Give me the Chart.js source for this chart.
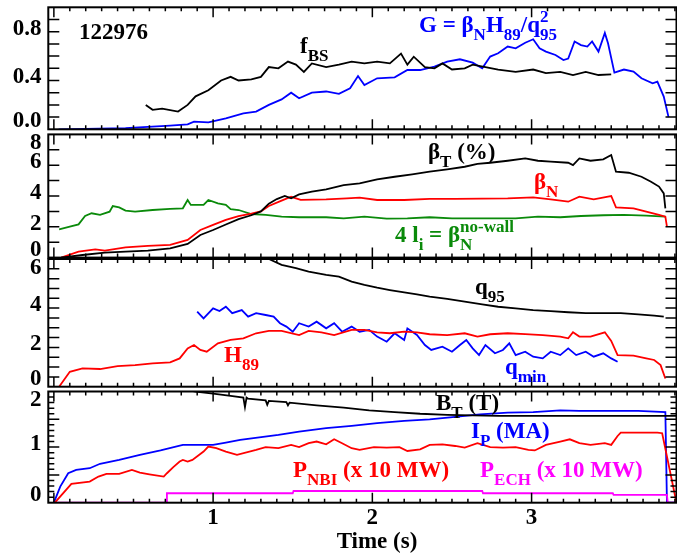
<!DOCTYPE html>
<html>
<head>
<meta charset="utf-8">
<script src="https://cdn.jsdelivr.net/npm/chart.js@4.4.1/dist/chart.umd.min.js"></script>
<style>
  html, body { margin: 0; padding: 0; background: #fff; }
  #wrap { position: relative; width: 677px; height: 556px; }
  #wrap canvas { position: absolute; left: 0; top: 0; }
</style>
</head>
<body>
<div id="wrap">
  <canvas id="p1" width="677" height="556"></canvas>
  <canvas id="p2" width="677" height="556"></canvas>
  <canvas id="p3" width="677" height="556"></canvas>
  <canvas id="p4" width="677" height="556"></canvas>
</div>
<script>
// ---- shot 122976, values ----
const X_MIN = -0.035, X_MAX = 3.91;
const xTickVals = [1, 2, 3];

// panel 1
const fbsT = [0.577,0.62,0.68,0.78,0.84,0.89,0.97,1.05,1.11,1.16,1.24,1.30,1.35,1.41,1.47,1.52,1.57,1.62,1.71,1.79,1.87,1.95,2.03,2.11,2.18,2.22,2.26,2.33,2.39,2.44,2.50,2.58,2.63,2.71,2.79,2.90,3.01,3.09,3.18,3.26,3.34,3.42,3.50];
const fbsV = [0.20,0.16,0.17,0.145,0.20,0.27,0.32,0.40,0.43,0.40,0.41,0.43,0.51,0.50,0.555,0.53,0.47,0.54,0.51,0.53,0.555,0.54,0.555,0.54,0.62,0.53,0.595,0.51,0.50,0.54,0.49,0.50,0.53,0.51,0.49,0.47,0.49,0.46,0.47,0.445,0.47,0.445,0.45];
const gT = [0.03,0.45,0.73,0.84,0.88,0.97,1.08,1.19,1.27,1.35,1.43,1.49,1.54,1.62,1.71,1.79,1.86,1.91,1.95,2.03,2.14,2.22,2.30,2.39,2.47,2.55,2.63,2.69,2.74,2.79,2.85,2.90,2.96,3.01,3.05,3.09,3.15,3.20,3.23,3.27,3.31,3.35,3.38,3.42,3.46,3.48,3.52,3.58,3.64,3.69,3.76,3.79,3.83,3.86];
const gV = [0.0,0.01,0.03,0.04,0.063,0.057,0.09,0.13,0.145,0.20,0.245,0.30,0.254,0.30,0.31,0.29,0.336,0.437,0.363,0.418,0.426,0.486,0.486,0.514,0.555,0.574,0.546,0.50,0.596,0.623,0.678,0.664,0.71,0.738,0.664,0.637,0.609,0.568,0.58,0.72,0.69,0.678,0.72,0.637,0.79,0.705,0.465,0.49,0.473,0.418,0.377,0.39,0.268,0.10];

// panel 2
const betaTT = [0.046,0.18,0.32,0.45,0.59,0.73,0.84,0.92,1.0,1.08,1.16,1.24,1.30,1.35,1.40,1.45,1.49,1.54,1.62,1.71,1.82,1.92,2.03,2.14,2.25,2.36,2.47,2.58,2.66,2.74,2.85,2.96,3.04,3.12,3.23,3.26,3.30,3.37,3.45,3.50,3.53,3.61,3.69,3.75,3.80,3.83,3.84];
const betaTV = [0,0.17,0.32,0.39,0.45,0.6,0.89,1.47,1.79,2.15,2.5,2.75,3.0,3.5,3.8,4.0,3.85,4.1,4.28,4.43,4.71,4.82,5.08,5.25,5.41,5.58,5.73,5.90,6.08,6.16,6.29,6.44,6.29,6.23,6.16,6.01,6.44,6.29,6.38,6.66,5.58,5.51,5.25,4.93,4.61,4.17,3.2];
const betaNT = [0.046,0.155,0.26,0.32,0.45,0.59,0.73,0.84,0.92,1.0,1.08,1.16,1.24,1.30,1.35,1.43,1.49,1.55,1.71,1.84,1.92,2.03,2.20,2.36,2.52,2.69,2.85,3.01,3.12,3.23,3.30,3.39,3.48,3.50,3.53,3.64,3.72,3.80,3.84,3.85];
const betaNV = [0,0.39,0.54,0.45,0.67,0.76,0.82,1.15,1.79,2.12,2.45,2.7,2.85,3.0,3.35,3.7,3.95,3.75,3.78,3.85,3.89,3.74,3.74,3.81,3.81,3.83,3.85,3.91,3.78,3.63,3.96,3.78,3.96,4.0,3.26,3.2,2.98,2.77,2.66,2.01];
const liT = [0.033,0.10,0.155,0.196,0.237,0.29,0.35,0.37,0.41,0.45,0.51,0.62,0.73,0.81,0.84,0.86,0.94,0.97,1.03,1.08,1.11,1.16,1.24,1.33,1.43,1.54,1.71,1.82,1.95,2.09,2.22,2.36,2.50,2.63,2.77,2.90,3.04,3.18,3.31,3.45,3.58,3.72,3.84];
const liV = [1.84,2.01,2.16,2.7,2.88,2.77,2.98,3.35,3.26,3.05,2.98,3.09,3.16,3.2,3.74,3.42,3.42,3.74,3.52,3.42,3.14,3.09,2.83,2.77,2.66,2.62,2.62,2.55,2.66,2.53,2.55,2.62,2.55,2.55,2.55,2.55,2.66,2.62,2.70,2.75,2.77,2.72,2.66];

// panel 3
const q95T = [1.35,1.43,1.52,1.60,1.71,1.79,1.87,1.95,2.03,2.11,2.20,2.28,2.36,2.47,2.58,2.69,2.79,2.90,3.01,3.12,3.23,3.34,3.45,3.56,3.67,3.77,3.83];
const q95V = [6.5,6.2,6.03,5.86,5.69,5.60,5.35,5.18,5.04,4.92,4.80,4.70,4.58,4.47,4.33,4.19,4.07,3.99,3.90,3.85,3.79,3.74,3.74,3.74,3.68,3.62,3.57];
const h89T = [0.033,0.10,0.18,0.29,0.40,0.51,0.62,0.73,0.79,0.84,0.88,0.92,0.96,1.03,1.11,1.19,1.27,1.35,1.43,1.54,1.60,1.68,1.76,1.87,1.95,2.03,2.11,2.20,2.28,2.36,2.47,2.58,2.66,2.74,2.85,2.96,3.07,3.18,3.23,3.26,3.30,3.37,3.46,3.50,3.54,3.64,3.72,3.77,3.81,3.84];
const h89V = [0,0.76,0.93,0.90,1.05,1.10,1.19,1.24,1.44,1.95,2.12,1.87,1.78,2.21,2.38,2.46,2.72,2.84,2.84,2.63,2.84,2.77,2.63,2.89,2.89,2.77,2.72,2.80,2.77,2.67,2.63,2.72,2.55,2.67,2.72,2.68,2.63,2.55,2.46,2.77,2.55,2.55,2.77,2.33,1.61,1.58,1.44,1.36,1.10,0.42];
const qminT = [0.90,0.94,1.0,1.04,1.08,1.12,1.18,1.22,1.27,1.33,1.38,1.42,1.46,1.50,1.54,1.60,1.65,1.71,1.76,1.81,1.87,1.92,1.98,2.03,2.09,2.14,2.20,2.22,2.28,2.33,2.37,2.44,2.50,2.55,2.59,2.63,2.67,2.71,2.77,2.82,2.86,2.90,2.96,3.01,3.07,3.12,3.18,3.23,3.28,3.34,3.39,3.45,3.50,3.54];
const qminV = [3.82,3.48,3.99,3.85,4.07,3.74,3.90,3.57,3.74,3.65,3.57,3.23,3.06,2.80,3.23,3.06,3.31,2.97,3.23,2.80,3.06,2.80,2.89,2.55,2.29,2.72,2.38,2.97,2.63,2.12,1.87,2.04,1.78,2.12,2.38,1.95,1.61,2.12,1.70,1.87,2.21,1.61,1.78,1.53,1.44,1.78,1.61,1.95,1.61,1.78,1.53,1.70,1.44,1.27];

// panel 4
const btT = [0.85,0.89,1.0,1.11,1.19,1.20,1.21,1.22,1.33,1.34,1.35,1.46,1.47,1.48,1.65,1.82,1.98,2.14,2.30,2.47,2.63,2.79,2.96,3.18,3.45,3.72,3.91];
const btV = [2.02,2.0,1.96,1.92,1.89,1.72,1.89,1.87,1.84,1.76,1.83,1.81,1.75,1.80,1.75,1.71,1.66,1.63,1.60,1.58,1.57,1.56,1.56,1.56,1.56,1.56,1.56];
const ipT = [0.0,0.04,0.09,0.14,0.225,0.29,0.41,0.54,0.67,0.81,1.0,1.08,1.17,1.41,1.54,1.71,1.87,2.03,2.20,2.36,2.52,2.675,2.85,3.01,3.18,3.30,3.50,3.67,3.84,3.85,3.91];
const ipV = [0,0.29,0.53,0.59,0.62,0.70,0.77,0.86,0.94,1.04,1.04,1.08,1.13,1.22,1.28,1.34,1.38,1.43,1.47,1.50,1.545,1.59,1.62,1.63,1.66,1.65,1.65,1.65,1.63,0,0];
const pnbiT = [0.006,0.11,0.225,0.28,0.33,0.41,0.49,0.54,0.60,0.69,0.71,0.75,0.79,0.81,0.84,0.87,0.94,0.97,1.02,1.08,1.15,1.27,1.33,1.41,1.49,1.54,1.60,1.65,1.71,1.76,1.81,1.87,1.92,2.01,2.09,2.17,2.22,2.30,2.36,2.44,2.52,2.58,2.66,2.74,2.82,2.90,2.98,3.02,3.09,3.18,3.24,3.30,3.37,3.46,3.50,3.54,3.56,3.79,3.82,3.91];
const pnbiV = [0,0.34,0.38,0.47,0.52,0.52,0.59,0.54,0.51,0.47,0.53,0.64,0.74,0.77,0.74,0.77,0.92,1.01,0.98,0.92,0.86,0.95,1.0,0.98,1.04,1.0,1.07,1.10,1.05,1.14,1.07,0.98,0.95,1.0,0.99,1.0,0.93,0.96,1.04,1.05,1.02,0.99,1.07,1.0,0.99,1.0,0.95,0.94,1.04,1.10,1.14,1.07,1.04,1.07,1.04,1.20,1.26,1.26,1.25,0];
const pechT = [0.0,0.705,0.71,1.50,1.505,2.69,2.695,3.51,3.515,3.85,3.855,3.91];
const pechV = [0,0,0.17,0.17,0.21,0.21,0.17,0.17,0.14,0.14,0,0];

// y axes per panel
const p1Ticks = [0, 0.4, 0.8], p1Text = ['0.0', '0.4', '0.8'];
const p2Ticks = [0, 2, 4, 6, 8], p2Text = ['0', '2', '4', '6', '8'];
const p3Ticks = [0, 2, 4, 6], p3Text = ['0', '2', '4', '6'];
const p4Ticks = [0, 1, 2], p4Text = ['0', '1', '2'];

const BLUE = '#0000ff', RED = '#ff0000', GREEN = '#0a8a0a', MAGENTA = '#ff00ff', BLACK = '#000000';
const FONT = 'bold 23px "Liberation Serif", "Times New Roman", serif';
const SMALL = 'bold 17px "Liberation Serif", "Times New Roman", serif';

function pts(ts, vs) {
    return ts.map((t, i) => ({ x: t, y: vs[i] }));
}

// draws text runs: plain, 'sub', 'sup', or 'supsub' (sup + sub stacked)
function drawRich(ctx, x, y, parts) {
    let cx = x;
    ctx.textBaseline = 'alphabetic';
    ctx.textAlign = 'left';
    for (const [txt, kind, low] of parts) {
        if (!kind) {
            ctx.font = FONT;
            ctx.fillText(txt, cx, y);
            cx += ctx.measureText(txt).width;
        } else if (kind === 'sub') {
            ctx.font = SMALL;
            ctx.fillText(txt, cx, y + 7.5);
            cx += ctx.measureText(txt).width;
        } else if (kind === 'sup') {
            ctx.font = SMALL;
            ctx.fillText(txt, cx, y - 10);
            cx += ctx.measureText(txt).width;
        } else {
            ctx.font = SMALL;
            ctx.fillText(txt, cx, y - 10);
            ctx.fillText(low, cx, y + 7.5);
            cx += Math.max(ctx.measureText(txt).width, ctx.measureText(low).width);
        }
    }
}

// IDL-style box: inward ticks on all sides, labels, annotations
const panelDecor = {
    id: 'panelDecor',
    afterDatasetsDraw(chart, args, o) {
        const { ctx, chartArea: a, scales: { x, y } } = chart;
        ctx.save();
        ctx.strokeStyle = BLACK;
        ctx.lineWidth = 1.5;
        ctx.beginPath();
        // y ticks, left and right
        const n = Math.round((o.yMax - o.yMin) / o.yStep);
        for (let i = 1; i < n; i++) {
            const v = o.yMin + i * o.yStep;
            const r = v / o.yMajor;
            const len = Math.abs(r - Math.round(r)) < 1e-6 ? 11 : 6;
            const py = y.getPixelForValue(v);
            ctx.moveTo(a.left, py); ctx.lineTo(a.left + len, py);
            ctx.moveTo(a.right, py); ctx.lineTo(a.right - len, py);
        }
        // x ticks, top and bottom
        for (let i = 0; i <= 39; i++) {
            const t = i / 10;
            const px = x.getPixelForValue(t);
            if (px <= a.left + 1 || px >= a.right - 1) continue;
            const len = i % 10 === 0 ? 10 : 4;
            ctx.moveTo(px, a.bottom); ctx.lineTo(px, a.bottom - len);
            ctx.moveTo(px, a.top); ctx.lineTo(px, a.top + len);
        }
        ctx.stroke();
        ctx.lineWidth = 2;
        ctx.strokeRect(a.left, a.top, a.right - a.left, a.bottom - a.top);

        // y tick labels
        ctx.fillStyle = BLACK;
        ctx.font = FONT;
        ctx.textAlign = 'right';
        ctx.textBaseline = 'middle';
        o.ticks.forEach((v, i) => {
            let py = y.getPixelForValue(v) - 3;
            py = Math.min(Math.max(py, a.top + 9), a.bottom - 8);
            ctx.fillText(o.tickText[i], 41.5, py);
        });

        // x tick labels and title on the bottom panel
        if (o.xAxis) {
            ctx.textAlign = 'center';
            xTickVals.forEach(t => ctx.fillText(String(t), x.getPixelForValue(t), 518));
            ctx.fillText('Time (s)', 377, 542);
        }

        for (const lab of o.texts) {
            ctx.fillStyle = lab.color;
            drawRich(ctx, lab.x, lab.y, lab.parts);
        }
        ctx.restore();
    }
};

function line(data, color) {
    return { data, borderColor: color, borderWidth: 1.8, pointRadius: 0, tension: 0, fill: false };
}

function makePanel(id, box, yMin, yMax, datasets, decor) {
    return new Chart(document.getElementById(id), {
        type: 'line',
        data: { datasets },
        options: {
            responsive: false,
            animation: false,
            events: [],
            parsing: false,
            layout: { padding: { left: 48.3, right: 677 - 676.5, top: box[0], bottom: 556 - box[1] } },
            scales: {
                x: { type: 'linear', min: X_MIN, max: X_MAX, display: false },
                y: { type: 'linear', min: yMin, max: yMax, display: false }
            },
            plugins: {
                legend: { display: false },
                tooltip: { enabled: false },
                panelDecor: Object.assign({ yMin, yMax }, decor)
            }
        },
        plugins: [panelDecor]
    });
}

makePanel('p1', [7.3, 129.3], 0, 1, [
    line(pts(fbsT, fbsV), BLACK),
    line(pts(gT, gV), BLUE)
], {
    yStep: 0.1, yMajor: 0.1, ticks: p1Ticks, tickText: p1Text,
    texts: [
        { x: 79, y: 39, color: BLACK, parts: [['122976']] },
        { x: 300, y: 53, color: BLACK, parts: [['f'], ['BS', 'sub']] },
        { x: 419, y: 32, color: BLUE, parts: [['G = β'], ['N', 'sub'], ['H'], ['89', 'sub'], ['/q'], ['2', 'supsub', '95']] }
    ]
});

makePanel('p2', [134.4, 257.6], 0, 8, [
    line(pts(betaTT, betaTV), BLACK),
    line(pts(betaNT, betaNV), RED),
    line(pts(liT, liV), GREEN)
], {
    yStep: 1, yMajor: 1, ticks: p2Ticks, tickText: p2Text,
    texts: [
        { x: 428, y: 159, color: BLACK, parts: [['β'], ['T', 'sub'], [' (%)']] },
        { x: 534, y: 189, color: RED, parts: [['β'], ['N', 'sub']] },
        { x: 395, y: 242, color: GREEN, parts: [['4 l'], ['i', 'sub'], [' = β'], ['no-wall', 'supsub', 'N']] }
    ]
});

makePanel('p3', [259, 386.7], 0, 6.5, [
    line(pts(q95T, q95V), BLACK),
    line(pts(h89T, h89V), RED),
    line(pts(qminT, qminV), BLUE)
], {
    yStep: 0.5, yMajor: 0.5, ticks: p3Ticks, tickText: p3Text,
    texts: [
        { x: 475, y: 294, color: BLACK, parts: [['q'], ['95', 'sub']] },
        { x: 224, y: 362, color: RED, parts: [['H'], ['89', 'sub']] },
        { x: 505, y: 374, color: BLUE, parts: [['q'], ['min', 'sub']] }
    ]
});

makePanel('p4', [391.5, 502.7], 0, 2, [
    line(pts(btT, btV), BLACK),
    line(pts(pnbiT, pnbiV), RED),
    line(pts(pechT, pechV), MAGENTA),
    line(pts(ipT, ipV), BLUE)
], {
    yStep: 0.1, yMajor: 0.5, ticks: p4Ticks, tickText: p4Text, xAxis: true,
    texts: [
        { x: 436, y: 410, color: BLACK, parts: [['B'], ['T', 'sub'], [' (T)']] },
        { x: 471, y: 438, color: BLUE, parts: [['I'], ['P', 'sub'], [' (MA)']] },
        { x: 293, y: 477, color: RED, parts: [['P'], ['NBI', 'sub'], [' (x 10 MW)']] },
        { x: 480, y: 477, color: MAGENTA, parts: [['P'], ['ECH', 'sub'], [' (x 10 MW)']] }
    ]
});
</script>
</body>
</html>
